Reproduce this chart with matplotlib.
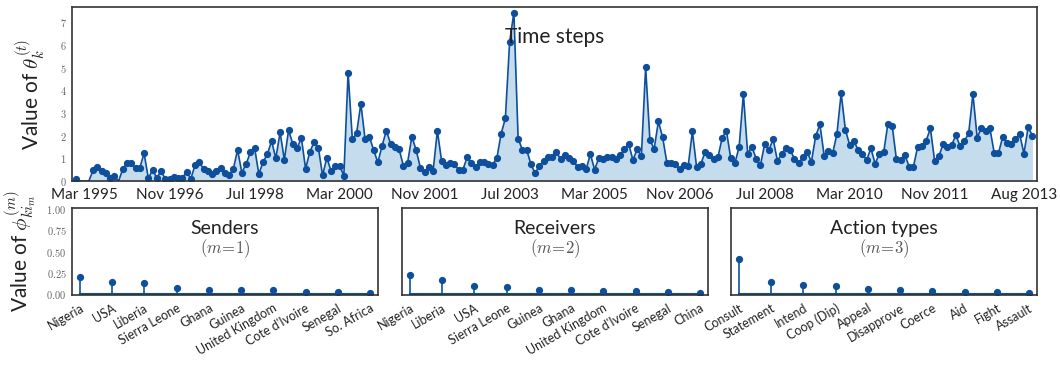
import numpy as np
import matplotlib
matplotlib.use("Agg")
import matplotlib.pyplot as plt
from matplotlib.ticker import FuncFormatter

plt.rcParams['font.family'] = ['Lato', 'DejaVu Sans']
plt.rcParams['mathtext.fontset'] = 'cm'

# monthly theta values, Jan 1995 .. Oct 2013
theta = [0.07, 0, 0, 0, 0.47, 0.62, 0.44, 0.34, 0.12, 0.21,
         0, 0.53, 0.81, 0.79, 0.57, 0.59, 1.22, 0.13, 0.47, 0.15,
         0.43, 0.10, 0.10, 0.16, 0.12, 0.12, 0.41, 0.10, 0.71, 0.84,
         0.53, 0.44, 0.32, 0.43, 0.56, 0.37, 0.25, 0.54, 1.37, 0.37,
         0.75, 1.26, 1.46, 0.31, 0.84, 1.18, 1.76, 1.00, 2.15, 0.94,
         2.24, 1.63, 1.44, 1.91, 0.54, 1.29, 1.71, 1.47, 0.25, 1.03,
         0.43, 0.65, 0.68, 0.24, 4.78, 1.84, 2.10, 3.41, 1.84, 1.96,
         1.37, 0.82, 1.56, 2.22, 1.65, 1.48, 1.40, 0.68, 0.81, 1.96,
         1.37, 0.59, 0.41, 0.63, 0.44, 2.22, 0.88, 0.72, 0.81, 0.74,
         0.49, 0.50, 1.04, 0.78, 0.60, 0.85, 0.82, 0.76, 0.72, 1.01,
         2.09, 2.76, 6.13, 7.43, 1.87, 1.38, 1.38, 0.75, 0.34, 0.68,
         0.88, 1.07, 1.07, 1.29, 0.96, 1.13, 1.01, 0.88, 0.62, 0.68,
         0.51, 1.19, 0.50, 1.03, 0.99, 1.06, 1.04, 0.97, 1.13, 1.40,
         1.65, 0.93, 1.40, 1.10, 5.03, 1.82, 1.41, 2.63, 1.93, 0.81,
         0.81, 0.76, 0.51, 0.71, 0.65, 2.19, 0.60, 0.76, 1.28, 1.16,
         0.96, 1.04, 1.90, 2.22, 1.03, 0.78, 1.51, 3.84, 1.21, 1.51,
         0.99, 0.69, 1.63, 1.37, 1.84, 0.90, 1.18, 1.47, 1.37, 0.99,
         0.81, 1.04, 1.28, 0.85, 1.97, 2.50, 1.12, 1.32, 1.22, 2.07,
         3.87, 2.25, 1.60, 1.76, 1.37, 1.19, 0.93, 1.44, 0.76, 1.21,
         1.26, 2.53, 2.44, 0.96, 0.94, 1.15, 0.63, 0.63, 1.51, 1.54,
         1.78, 2.32, 0.87, 1.10, 1.63, 1.49, 1.60, 2.01, 1.53, 1.76,
         2.10, 3.84, 1.91, 2.35, 2.19, 2.32, 1.25, 1.22, 1.94, 1.69,
         1.65, 1.87, 2.06, 1.21, 2.37, 2.00]
tick_pos = [2, 22, 42, 62, 82, 102, 122, 142, 162, 182, 202, 223]
tick_lab = ['Mar 1995', 'Nov 1996', 'Jul 1998', 'Mar 2000', 'Nov 2001', 'Jul 2003',
            'Mar 2005', 'Nov 2006', 'Jul 2008', 'Mar 2010', 'Nov 2011', 'Aug 2013']

senders = ['Nigeria', 'USA', 'Liberia', 'Sierra Leone', 'Ghana', 'Guinea',
           'United Kingdom', "Cote d'Ivoire", 'Senegal', 'So. Africa']
senders_val = [0.207, 0.145, 0.137, 0.074, 0.055, 0.050, 0.047, 0.027, 0.027, 0.023]
receivers = ['Nigeria', 'Liberia', 'USA', 'Sierra Leone', 'Guinea', 'Ghana',
             'United Kingdom', "Cote d'Ivoire", 'Senegal', 'China']
receivers_val = [0.223, 0.168, 0.098, 0.082, 0.055, 0.051, 0.039, 0.035, 0.027, 0.023]
actions = ['Consult', 'Statement', 'Intend', 'Coop (Dip)', 'Appeal', 'Disapprove',
           'Coerce', 'Aid', 'Fight', 'Assault']
actions_val = [0.41, 0.145, 0.113, 0.105, 0.0625, 0.051, 0.043, 0.031, 0.031, 0.023]

dark = '#0d4f9c'
fill = '#c4dcec'
spine = '#333333'
tickc = '#666666'

fig = plt.figure(figsize=(10.6, 3.65), dpi=100)

# top: time series
ax = fig.add_axes([0.068, 0.504, 0.910, 0.477])
t = np.arange(len(theta))
y = np.array(theta)
ax.fill_between(t, 0, y, color=fill, lw=0)
ax.plot(t, y, color=dark, lw=1.2)
ym = np.ma.masked_where(y == 0, y)
ax.plot(t, ym, 'o', color=dark, ms=4.2)
ax.set_xlim(-0.94, 226)
ax.set_ylim(0, 7.68)
ax.set_xticks(tick_pos)
ax.set_xticklabels(tick_lab, fontsize=11, color='#222222')
ax.set_yticks(range(8))
ax.yaxis.set_major_formatter(FuncFormatter(lambda v, p: '$%d$' % v))
ax.tick_params(axis='y', labelsize=7.5, colors=tickc, length=0, pad=4)
ax.tick_params(axis='x', length=0, pad=5)
ax.set_ylabel(r'Value of $\theta_k^{(t)}$', fontsize=15, color='#222222', labelpad=8)
ax.text(0.5, 0.826, 'Time steps', transform=ax.transAxes, ha='center', va='center',
        fontsize=15, color='#222222')
for s in ax.spines.values():
    s.set_color(spine)
    s.set_linewidth(1.2)

# bottom: stems
panels = [(senders, senders_val, 'Senders', 1, 72),
          (receivers, receivers_val, 'Receivers', 2, 402),
          (actions, actions_val, 'Action types', 3, 731)]
for k, (names, vals, title, m, left) in enumerate(panels):
    bx = fig.add_axes([left / 1060, 0.192, 306 / 1060, 0.238])
    xs = np.arange(len(vals))
    ml, sl, bl = bx.stem(xs, vals, basefmt='-')
    plt.setp(ml, color=dark, markersize=4.2)
    plt.setp(sl, color='#1f60ad', linewidth=1.3)
    plt.setp(bl, color=dark, linewidth=1.5)
    bx.set_xlim(-0.25, 9.25)
    bx.set_ylim(-0.005, 1.01)
    bx.set_xticks(xs)
    bx.set_xticklabels(names, rotation=30, ha='right', rotation_mode='anchor',
                       fontsize=9, color='#222222')
    bx.tick_params(axis='x', length=0, pad=5)
    if k == 0:
        bx.set_yticks([0, 0.25, 0.5, 0.75, 1.0])
        bx.yaxis.set_major_formatter(FuncFormatter(lambda v, p: '$%.2f$' % v))
        bx.tick_params(axis='y', labelsize=7.5, colors=tickc, length=0, pad=4)
        bx.set_ylabel(r'Value of $\phi_{ki_m}^{(m)}$', fontsize=15, color='#222222',
                      labelpad=5)
    else:
        bx.set_yticks([])
    bx.text(0.5, 0.77, title, transform=bx.transAxes, ha='center', va='center',
            fontsize=14, color='#222222')
    bx.text(0.5, 0.53, '$(m\\!=\\!%d)$' % m, transform=bx.transAxes, ha='center',
            va='center', fontsize=12, color='#555555')
    for s in bx.spines.values():
        s.set_color(spine)
        s.set_linewidth(1.2)

fig.savefig('out.png', dpi=100)
